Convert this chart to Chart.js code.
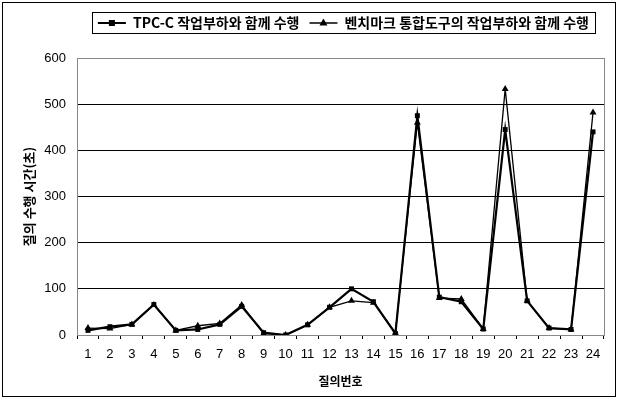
<!DOCTYPE html>
<html>
<head>
<meta charset="utf-8">
<script src="https://cdn.jsdelivr.net/npm/chart.js@4.4.1/dist/chart.umd.min.js"></script>
<style>
  body { margin: 0; background: #fff; }
  #wrap { width: 620px; height: 400px; }
</style>
</head>
<body>
<div id="wrap"><canvas id="theChart" width="620" height="400"></canvas></div>
<script>
// query numbers 1..24
var queries = ['1','2','3','4','5','6','7','8','9','10','11','12','13','14','15','16','17','18','19','20','21','22','23','24'];
// run time (sec) with TPC-C workload
var tpccTimes = [10, 18, 23, 66, 10, 12, 23, 62, 5, 0, 22, 60, 100, 72, 3, 475, 82, 72, 13, 445, 74, 15, 12, 440];
// run time (sec) with benchmark tool workload
var benchTimes = [15, 14, 23, 65, 10, 20, 25, 65, 3, 0, 22, 60, 74, 70, 5, 460, 80, 78, 13, 533, 74, 15, 12, 482];
var yTicks = [0, 100, 200, 300, 400, 500, 600];

var korFont = "'Noto Sans CJK KR', 'Liberation Sans', sans-serif";

// make room between the legend and the plot, nudge it a bit left
var legendGap = {
  id: 'legendGap',
  beforeInit: function(chart) {
    var origFit = chart.legend.fit;
    chart.legend.fit = function() {
      origFit.bind(chart.legend)();
      this.height += 18;
    };
  },
  afterLayout: function(chart) {
    chart.legend.left -= 5;
    chart.legend.right -= 5;
  }
};

// draws outer frame, legend frame and legend line+marker samples
var framePlugin = {
  id: 'framePlugin',
  afterDraw: function(chart) {
    var ctx = chart.ctx;
    ctx.save();
    ctx.strokeStyle = '#000';
    ctx.lineWidth = 1;
    ctx.strokeRect(2.5, 2.5, 613, 394);

    var boxes = chart.legend.legendHitBoxes;
    if (boxes && boxes.length) {
      var l = boxes[0].left - 6;
      var last = boxes[boxes.length - 1];
      var r = last.left + last.width + 6;
      ctx.strokeRect(Math.round(l) + 0.5, 12.5, Math.round(r - l), 21);
      for (var i = 0; i < boxes.length; i++) {
        var b = boxes[i];
        var cy = b.top + b.height / 2;
        ctx.beginPath();
        ctx.lineWidth = i == 0 ? 2 : 1.5;
        ctx.moveTo(b.left, cy);
        ctx.lineTo(b.left + 28, cy);
        ctx.stroke();
        ctx.fillStyle = '#000';
        var cx = b.left + 14;
        if (i == 0) {
          ctx.fillRect(cx - 3, cy - 3, 6, 6);
        } else {
          ctx.beginPath();
          ctx.moveTo(cx, cy - 4.5);
          ctx.lineTo(cx + 4, cy + 2.5);
          ctx.lineTo(cx - 4, cy + 2.5);
          ctx.closePath();
          ctx.fill();
        }
      }
    }
    // plot area border
    var a = chart.chartArea;
    ctx.lineWidth = 1;
    ctx.strokeStyle = '#888';
    ctx.strokeRect(Math.round(a.left) + 0.5, Math.round(a.top) + 0.5, Math.round(a.right - a.left), Math.round(a.bottom - a.top));
    ctx.restore();
  }
};

var myChart = new Chart(document.getElementById('theChart').getContext('2d'), {
  type: 'line',
  data: {
    labels: queries,
    datasets: [{
      label: 'TPC-C 작업부하와 함께 수행',
      data: tpccTimes,
      borderColor: '#000',
      backgroundColor: '#000',
      borderWidth: 2.2,
      pointStyle: 'rect',
      pointRadius: 3.5,
      pointBorderWidth: 0,
      tension: 0
    }, {
      label: '벤치마크 통합도구의 작업부하와 함께 수행',
      data: benchTimes,
      borderColor: '#000',
      backgroundColor: '#000',
      borderWidth: 1.3,
      pointStyle: 'triangle',
      pointRadius: 4,
      pointBorderWidth: 0,
      tension: 0
    }]
  },
  options: {
    responsive: false,
    animation: false,
    layout: { padding: { left: 0, right: 16, top: 6, bottom: 0 } },
    plugins: {
      tooltip: { enabled: false },
      legend: {
        position: 'top',
        align: 'end',
        labels: {
          color: '#000',
          font: { family: korFont, size: 14, weight: 'bold' },
          boxWidth: 28,
          boxHeight: 10,
          padding: 10,
          generateLabels: function(chart) {
            return chart.data.datasets.map(function(ds, i) {
              return { text: ds.label, fillStyle: 'rgba(0,0,0,0)', strokeStyle: 'rgba(0,0,0,0)', lineWidth: 0, datasetIndex: i };
            });
          }
        }
      }
    },
    scales: {
      x: {
        offset: true,
        afterFit: function(s) { s.height = 65; },
        grid: { offset: true, drawOnChartArea: false, color: '#000', tickLength: 4 },
        border: { color: '#000' },
        ticks: { color: '#000', font: { family: "'Liberation Sans', sans-serif", size: 13 }, maxRotation: 0, autoSkip: false, padding: 8 },
        title: { display: true, text: '질의번호', color: '#000', font: { family: korFont, size: 12, weight: 'bold' }, padding: { top: 4, bottom: 11 } }
      },
      y: {
        min: 0,
        max: 600,
        afterFit: function(s) { s.width = 77; },
        afterBuildTicks: function(s) { s.ticks = yTicks.map(function(v) { return { value: v }; }); },
        grid: { color: '#000', drawTicks: false },
        border: { color: '#000' },
        ticks: { color: '#000', font: { family: "'Liberation Sans', sans-serif", size: 13 }, padding: 11 },
        title: { display: true, text: '질의 수행 시간(초)', color: '#000', font: { family: korFont, size: 13, weight: 'bold' }, padding: { top: 21, bottom: 0 } }
      }
    }
  },
  plugins: [legendGap, framePlugin]
});
</script>
</body>
</html>
